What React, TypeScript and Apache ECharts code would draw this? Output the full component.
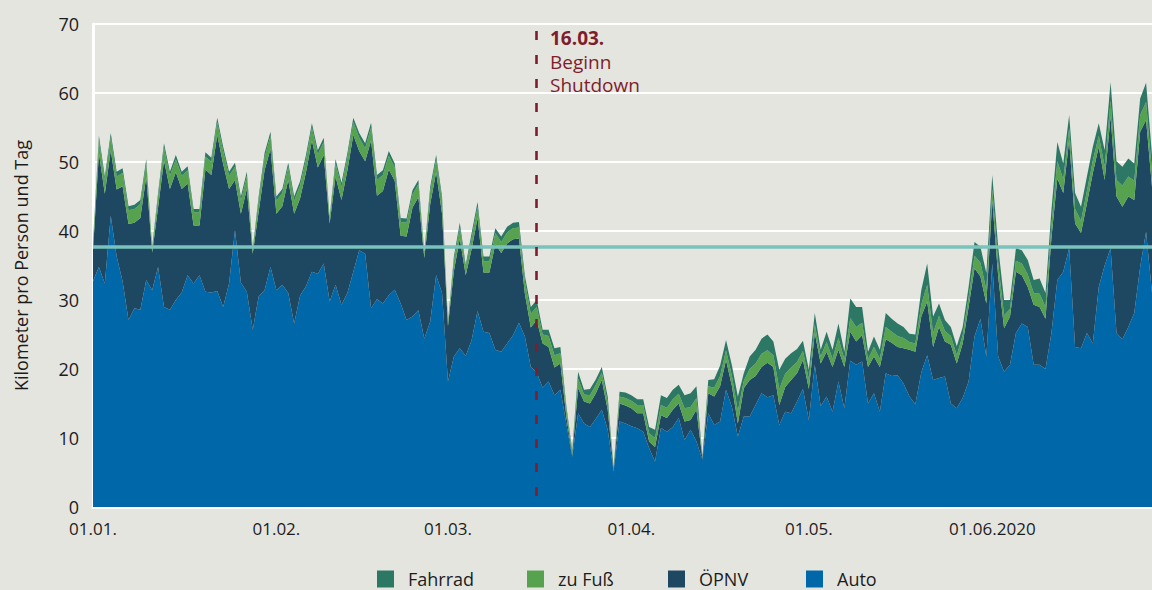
import React, { useEffect, useRef } from 'react';
import * as echarts from 'echarts';

// Daily values, 01.01.2020 – 28.06.2020 (km per person and day)
const auto = [
  32.7, 34.8, 32.4, 42.2, 36.3, 32.7, 27.1, 28.8, 28.6, 32.9,
  31.4, 34.8, 29.0, 28.6, 30.0, 31.1, 33.6, 32.4, 33.6, 31.2,
  31.1, 31.3, 29.0, 32.4, 40.1, 32.5, 31.2, 25.7, 30.5, 31.4,
  34.8, 31.4, 32.2, 31.0, 26.6, 30.6, 32.0, 34.1, 33.8, 35.3,
  29.8, 32.2, 29.3, 31.0, 34.1, 37.2, 36.7, 28.8, 30.1, 29.5,
  30.7, 31.5, 29.5, 27.1, 27.6, 28.5, 24.4, 26.9, 33.6, 31.0,
  18.2, 21.8, 23.0, 21.9, 24.2, 28.4, 25.4, 25.2, 22.8, 22.5,
  23.7, 24.9, 26.7, 24.7, 20.3, 19.5, 17.3, 18.2, 16.2, 17.0,
  12.1, 7.3, 13.6, 12.1, 11.6, 12.8, 14.1, 11.2, 5.2, 12.4,
  12.1, 11.7, 11.4, 10.9, 8.5, 6.6, 11.5, 10.9, 11.6, 12.9,
  9.7, 11.2, 9.5, 6.9, 13.6, 11.9, 12.4, 17.0, 14.5, 10.2,
  13.1, 13.1, 14.8, 16.5, 15.9, 16.2, 11.9, 13.8, 13.6, 15.3,
  17.1, 12.6, 20.6, 14.6, 16.0, 13.8, 18.2, 14.3, 21.2, 20.6,
  21.1, 15.0, 16.5, 13.8, 19.4, 19.0, 19.1, 17.9, 16.0, 14.9,
  19.5, 22.0, 18.4, 18.7, 18.9, 15.0, 14.3, 15.8, 18.2, 24.7,
  27.3, 21.8, 35.3, 21.8, 19.6, 20.6, 25.2, 26.6, 26.1, 20.6,
  20.6, 20.0, 25.2, 32.9, 34.1, 37.5, 23.2, 23.0, 25.2, 23.7,
  31.9, 35.0, 37.5, 25.2, 24.3, 26.1, 28.1, 34.8, 39.9, 31.0
];

const oepnv = [
  4.5, 16.5, 13.0, 9.5, 9.7, 13.8, 13.9, 12.4, 13.3, 15.0,
  5.5, 8.6, 21.2, 17.5, 18.5, 15.0, 13.3, 8.4, 7.2, 17.7,
  17.0, 22.6, 20.7, 13.7, 7.3, 10.0, 14.9, 11.0, 12.3, 17.4,
  17.1, 11.1, 11.4, 16.4, 15.9, 14.1, 16.5, 19.0, 15.4, 15.7,
  11.3, 15.7, 15.2, 17.8, 19.8, 14.4, 13.4, 24.3, 15.0, 16.3,
  18.2, 15.8, 9.8, 12.1, 15.8, 16.4, 11.7, 17.0, 14.9, 11.5,
  8.0, 12.4, 15.9, 11.7, 13.2, 13.5, 8.6, 8.8, 15.3, 14.3,
  14.5, 13.9, 12.2, 6.2, 5.7, 7.6, 6.4, 5.0, 4.0, 3.8,
  1.1, 0.3, 3.6, 3.2, 3.4, 3.7, 4.3, 2.9, 0.2, 2.6,
  2.6, 2.6, 2.2, 2.7, 1.0, 2.1, 1.8, 2.0, 2.5, 2.1,
  2.7, 1.4, 4.6, 0.2, 2.9, 4.1, 5.1, 4.3, 3.0, 1.9,
  4.1, 5.3, 4.2, 3.8, 5.0, 4.1, 2.9, 3.6, 4.8, 4.1,
  4.2, 4.5, 4.6, 6.2, 6.5, 6.5, 4.6, 6.0, 4.2, 3.4,
  3.8, 5.3, 5.3, 6.5, 4.9, 4.8, 4.1, 5.1, 6.8, 7.6,
  8.1, 7.8, 4.8, 7.4, 5.1, 8.5, 6.5, 7.9, 10.8, 9.9,
  6.1, 7.7, 9.2, 11.6, 6.3, 7.0, 8.9, 7.0, 5.8, 8.7,
  8.4, 7.3, 13.8, 14.7, 11.4, 15.7, 17.9, 16.7, 18.8, 24.7,
  20.3, 12.4, 19.1, 19.8, 19.2, 18.9, 16.4, 19.6, 16.2, 15.4
];

const zuFuss = [
  1.0, 1.9, 1.9, 1.9, 1.9, 1.9, 2.0, 2.0, 2.0, 1.9,
  0.6, 1.6, 1.9, 1.9, 1.9, 1.9, 1.9, 1.9, 1.9, 1.9,
  1.9, 1.9, 1.9, 1.9, 1.9, 1.9, 1.9, 0.6, 1.7, 1.9,
  1.9, 1.9, 1.9, 1.9, 1.9, 1.9, 1.9, 1.9, 1.9, 1.9,
  0.8, 1.9, 1.9, 1.9, 1.9, 1.9, 1.9, 1.9, 2.3, 2.3,
  2.0, 1.9, 2.0, 2.0, 1.9, 1.9, 0.7, 1.9, 1.9, 1.9,
  0.5, 1.5, 1.6, 1.1, 1.6, 1.6, 1.6, 1.6, 1.6, 1.6,
  1.6, 1.6, 1.6, 1.8, 2.0, 1.9, 1.3, 1.6, 1.8, 1.5,
  1.0, 0.4, 1.4, 1.0, 1.2, 1.2, 1.1, 1.1, 0.2, 1.0,
  1.1, 1.1, 1.2, 1.2, 1.2, 1.3, 1.5, 1.5, 1.5, 1.4,
  1.9, 1.9, 1.7, 0.1, 1.0, 1.3, 1.5, 1.4, 1.5, 1.8,
  1.1, 1.6, 1.8, 1.9, 1.8, 1.7, 2.3, 1.9, 1.8, 1.6,
  1.3, 1.4, 1.3, 1.0, 1.4, 1.2, 1.7, 1.1, 2.0, 2.1,
  1.8, 1.1, 1.4, 1.2, 1.8, 1.6, 1.6, 1.5, 1.1, 1.2,
  1.7, 2.4, 2.0, 1.6, 1.5, 1.3, 1.2, 1.2, 1.4, 1.8,
  2.0, 2.0, 1.6, 2.0, 1.9, 1.1, 1.6, 1.7, 1.8, 1.7,
  1.9, 1.7, 1.9, 2.5, 2.0, 1.7, 2.1, 1.8, 1.8, 1.8,
  1.6, 2.0, 2.3, 2.4, 3.1, 2.9, 2.8, 2.4, 2.6, 2.2
];

const fahrrad = [
  0.3, 0.6, 0.6, 0.6, 0.7, 0.7, 0.6, 0.6, 0.6, 0.6,
  0.2, 0.5, 0.6, 0.6, 0.6, 0.6, 0.6, 0.5, 0.5, 0.6,
  0.6, 0.6, 0.6, 0.6, 0.6, 0.6, 0.6, 0.2, 0.5, 0.6,
  0.6, 0.6, 0.6, 0.6, 0.6, 0.6, 0.6, 0.6, 0.6, 0.6,
  0.2, 0.6, 0.6, 0.6, 0.6, 0.7, 0.7, 0.7, 0.7, 0.7,
  0.7, 0.6, 0.6, 0.6, 0.6, 0.6, 0.2, 0.6, 0.6, 0.6,
  0.2, 0.6, 0.7, 0.4, 0.7, 0.7, 0.7, 0.7, 0.7, 0.8,
  0.8, 0.8, 0.8, 0.8, 1.0, 1.0, 0.7, 0.9, 1.0, 0.9,
  0.5, 0.3, 1.0, 0.7, 0.9, 0.8, 0.8, 0.8, 0.2, 0.7,
  0.8, 0.8, 0.8, 0.8, 0.9, 1.2, 1.4, 1.4, 1.4, 1.3,
  1.9, 2.0, 1.7, 0.1, 0.9, 1.2, 1.5, 1.5, 1.5, 2.1,
  1.1, 1.8, 2.0, 2.2, 2.3, 2.0, 2.8, 2.2, 2.1, 1.9,
  1.5, 1.4, 1.6, 1.0, 1.5, 1.3, 2.1, 1.1, 2.8, 2.9,
  2.3, 1.1, 1.5, 1.3, 2.0, 1.9, 1.8, 1.6, 1.2, 1.3,
  2.1, 3.1, 2.4, 1.8, 1.6, 1.3, 1.3, 1.2, 1.5, 2.0,
  2.3, 2.4, 2.0, 2.3, 2.2, 1.3, 1.8, 1.9, 2.1, 1.9,
  2.2, 2.0, 2.1, 2.8, 2.3, 1.9, 2.3, 2.0, 2.1, 2.0,
  1.8, 2.3, 2.7, 2.7, 2.7, 2.6, 2.5, 2.4, 2.8, 2.4
];

const seriesNames = ['Auto', 'ÖPNV', 'zu Fuß', 'Fahrrad'];
const legendOrder = ['Fahrrad', 'zu Fuß', 'ÖPNV', 'Auto'];
const tickLabels: Record<string, string> = {
  '01.01.': '01.01.',
  '01.02.': '01.02.',
  '01.03.': '01.03.',
  '01.04.': '01.04.',
  '01.05.': '01.05.',
  '01.06.': '01.06.2020',
};
const shutdownDate = '16.03.';
const shutdownText = ['16.03.', 'Beginn', 'Shutdown'];
const referenceLevel = 37.7;
const yAxisName = 'Kilometer pro Person und Tag';

const pad = (n: number) => (n < 10 ? '0' + n : '' + n);
const categories: string[] = auto.map((_, i) => {
  const d = new Date(Date.UTC(2020, 0, 1 + i));
  return pad(d.getUTCDate()) + '.' + pad(d.getUTCMonth() + 1) + '.';
});

const colors: Record<string, string> = {
  Auto: '#0068a9',
  'ÖPNV': '#1e4862',
  'zu Fuß': '#56a24f',
  Fahrrad: '#2c7865',
};

const legendLeft = [377, 527, 668, 806];

const FONT = '"Open Sans", sans-serif';
const TEXT = '#1c1c1c';
const RED = '#7f1d2b';

export default function App() {
  const ref = useRef<HTMLDivElement>(null);
  useEffect(() => {
    document.body.style.margin = '0';
    const chart = echarts.init(ref.current!, undefined, { renderer: 'svg' });
    const dataBy: Record<string, number[]> = {
      Auto: auto,
      'ÖPNV': oepnv,
      'zu Fuß': zuFuss,
      Fahrrad: fahrrad,
    };
    const series: any[] = seriesNames.map((name) => ({
      name,
      type: 'line',
      stack: 'total',
      data: dataBy[name],
      symbol: 'none',
      showSymbol: false,
      silent: true,
      lineStyle: { width: 0, color: colors[name] },
      itemStyle: { color: colors[name] },
      areaStyle: { color: colors[name], opacity: 1 },
      emphasis: { disabled: true },
    }));
    series[series.length - 1].markLine = {
      silent: true,
      symbol: ['none', 'none'],
      label: { show: false },
      emphasis: { disabled: true },
      data: [
        { yAxis: referenceLevel, lineStyle: { color: '#7ac2bc', width: 3.5, type: 'solid' } },
        [
          { coord: [shutdownDate, 69], lineStyle: { color: '#831c2a', width: 2.6, type: [9, 15] } },
          { coord: [shutdownDate, 0] },
        ],
      ],
    };

    chart.setOption({
      animation: false,
      backgroundColor: '#e5e5e0',
      textStyle: { fontFamily: FONT },
      grid: { left: 93, right: 0, top: 24, bottom: 83, containLabel: false },
      legend: legendOrder.map((name, i) => ({
        data: [name],
        left: legendLeft[i],
        top: 570,
        padding: 0,
        icon: 'rect',
        itemWidth: 17,
        itemHeight: 17,
        selectedMode: false,
        textStyle: { fontSize: 18, color: TEXT, fontFamily: FONT, padding: [0, 0, 0, 9] },
      })),
      xAxis: {
        type: 'category',
        data: categories,
        boundaryGap: false,
        axisLine: { show: true, lineStyle: { color: '#ffffff', width: 3 } },
        axisTick: { show: false },
        splitLine: { show: false },
        axisLabel: {
          interval: (_i: number, v: string) => v in tickLabels,
          formatter: (v: string) => tickLabels[v] || '',
          color: TEXT,
          fontSize: 17,
          fontFamily: FONT,
          margin: 13,
        },
      },
      yAxis: {
        type: 'value',
        min: 0,
        max: 70,
        interval: 10,
        name: yAxisName,
        nameLocation: 'middle',
        nameGap: 63,
        nameTextStyle: { fontSize: 18, color: TEXT, fontFamily: FONT },
        axisLine: { show: true, lineStyle: { color: '#ffffff', width: 3 } },
        axisTick: { show: false },
        axisLabel: { color: TEXT, fontSize: 18, fontFamily: FONT, margin: 14 },
        splitLine: { show: true, lineStyle: { color: '#ffffff', width: 2 } },
      },
      graphic: shutdownText.map((t, i) => ({
        type: 'text',
        x: 550,
        y: 37.7 + i * 23.8,
        silent: true,
        style: {
          text: t,
          fill: RED,
          fontSize: 19,
          fontWeight: i === 0 ? 'bold' : 'normal',
          fontFamily: FONT,
          verticalAlign: 'middle',
          align: 'left',
        },
      })),
      series,
    });
    return () => chart.dispose();
  }, []);
  return <div ref={ref} style={{ width: 1152, height: 590 }} />;
}
